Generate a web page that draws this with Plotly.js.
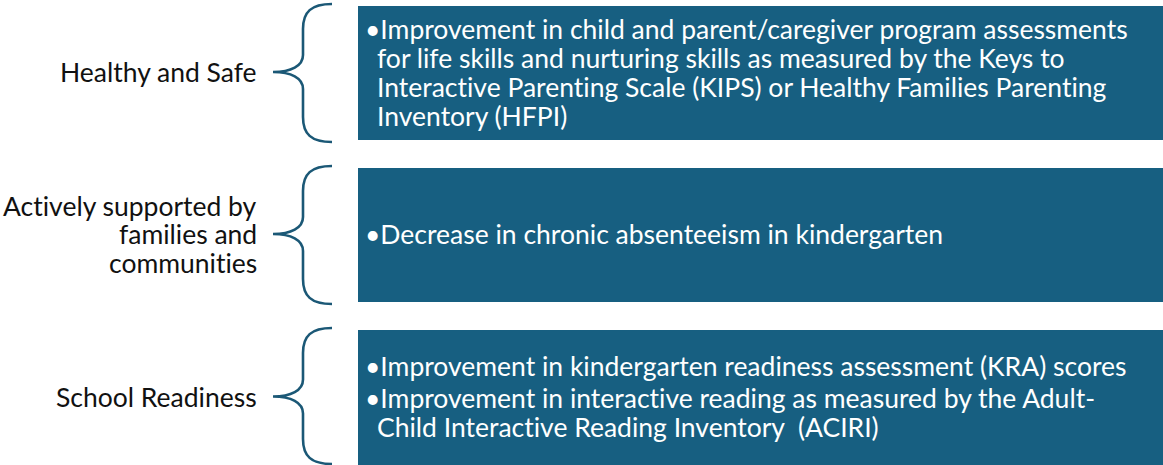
<!DOCTYPE html>
<html>
<head>
<meta charset="utf-8">
<script src="https://cdn.plot.ly/plotly-3.0.1.min.js"></script>
<style>
  html, body { margin: 0; padding: 0; background: #fff; }
  #chart { width: 1163px; height: 465px; }
  svg text { font-variant-ligatures: none; font-feature-settings: "liga" 0; }
</style>
</head>
<body>
<div id="chart"></div>
<script>
// outcome groups (left labels) and their indicators (box text, one entry per line)
const categories = [
  ['Healthy and Safe'],
  ['Actively supported by', 'families and', 'communities'],
  ['School Readiness']
];

const indicators = [
  [
    ['Improvement in child and parent/caregiver program assessments',
     'for life skills and nurturing skills as measured by the Keys to',
     'Interactive Parenting Scale (KIPS) or Healthy Families Parenting',
     'Inventory (HFPI)']
  ],
  [
    ['Decrease in chronic absenteeism in kindergarten']
  ],
  [
    ['Improvement in kindergarten readiness assessment (KRA) scores'],
    ['Improvement in interactive reading as measured by the Adult-',
     'Child Interactive Reading Inventory  (ACIRI)']
  ]
];

// vertical band of each group (top, bottom) in page pixels
const groupTop = [6, 168, 330];
const groupBottom = [140, 302, 466];

const boxColor = '#175f81';
const braceColor = '#1b5876';
const fontFam = 'Lato, "Open Sans", sans-serif';
const fontSize = 26.5;
const lineGap = 29;
const itemGap = 32;

const shapes = [];
const annotations = [];

groupTop.forEach((top, i) => {
  const bot = groupBottom[i];
  const mid = (top + Math.min(bot, 465)) / 2 - 1;

  // box
  shapes.push({
    type: 'rect', xref: 'x', yref: 'y',
    x0: 358, x1: 1163, y0: top, y1: bot,
    fillcolor: boxColor, line: { width: 0 }, layer: 'below'
  });

  // curly brace
  const bt = top - 2, bb = Math.min(bot + 2, 464);
  const p = 'M 332 ' + bt +
    ' C 311 ' + bt + ' 303 ' + (bt + 8) + ' 303 ' + (bt + 25) +
    ' L 303 ' + (mid - 17) +
    ' C 303 ' + (mid - 6) + ' 291 ' + mid + ' 273 ' + mid +
    ' C 291 ' + mid + ' 303 ' + (mid + 6) + ' 303 ' + (mid + 17) +
    ' L 303 ' + (bb - 25) +
    ' C 303 ' + (bb - 8) + ' 311 ' + bb + ' 332 ' + bb;
  shapes.push({
    type: 'path', xref: 'x', yref: 'y', path: p,
    line: { color: braceColor, width: 2.6 }
  });

  // left label
  const lab = categories[i];
  const ly0 = mid - (lab.length - 1) * 28.5 / 2;
  lab.forEach((t, k) => {
    annotations.push({
      xref: 'x', yref: 'y', x: 259, y: ly0 + k * 28.5,
      xanchor: 'right', yanchor: 'middle', showarrow: false,
      text: t, font: { family: fontFam, size: fontSize, color: '#111' }
    });
  });

  // indicator text
  const items = indicators[i];
  let nLines = 0;
  items.forEach(it => { nLines += it.length; });
  const total = (nLines - items.length) * lineGap + (items.length - 1) * itemGap;
  let y = mid - total / 2;
  items.forEach((it, j) => {
    if (j > 0) y += itemGap;
    it.forEach((t, k) => {
      if (k > 0) y += lineGap;
      annotations.push({
        xref: 'x', yref: 'y', x: k === 0 ? 363 : 375, y: y,
        xanchor: 'left', yanchor: 'middle', showarrow: false,
        text: (k === 0 ? '\u2022' : '') + t,
        font: { family: fontFam, size: fontSize, color: '#ffffff' }
      });
    });
  });
});

const layout = {
  width: 1163, height: 465,
  margin: { l: 0, r: 0, t: 0, b: 0 },
  paper_bgcolor: '#ffffff', plot_bgcolor: '#ffffff',
  showlegend: false,
  xaxis: { range: [0, 1163], visible: false, fixedrange: true },
  yaxis: { range: [465, 0], visible: false, fixedrange: true },
  shapes: shapes,
  annotations: annotations
};

Plotly.newPlot('chart', [], layout, { displayModeBar: false, staticPlot: true });
</script>
</body>
</html>
